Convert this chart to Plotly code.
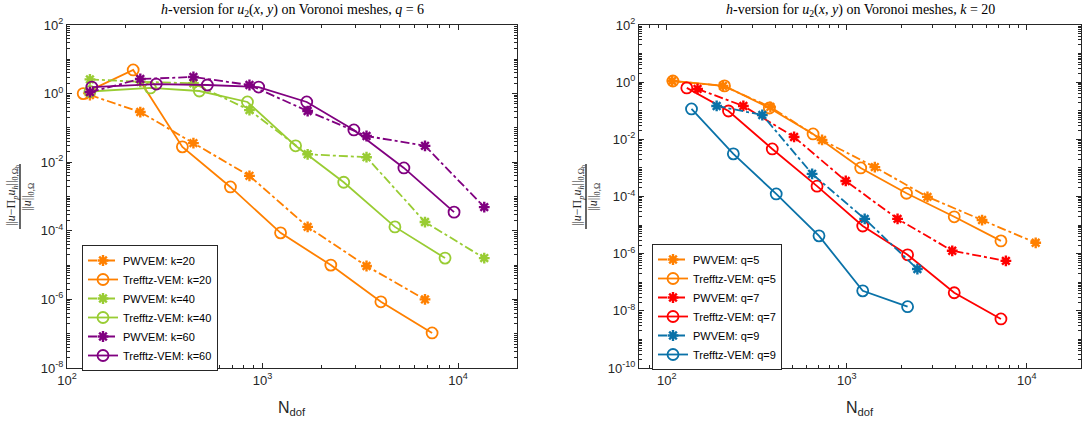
import plotly.graph_objects as go

# ---------------- data: left panel (q = 6) ----------------
ndof_pw_left = [131, 237, 443, 857, 1700, 3400, 6770, 13600]
pw_k20 = [0.91, 0.29, 0.036, 0.004, 1.3e-4, 9.4e-6, 1.0e-6]
pw_k40 = [2.6, 2.2, 2.0, 0.33, 0.017, 0.014, 1.8e-4, 1.6e-5]
pw_k60 = [1.11, 2.67, 3.05, 1.78, 0.31, 0.058, 0.03, 4.9e-4]

tv_k20_x = [121, 218, 389, 685, 1236, 2233, 4027, 7360]
tv_k20 = [1.0, 4.9, 0.028, 1.9e-3, 8.7e-5, 1.0e-5, 8.5e-7, 1.05e-7]
tv_k40_x = [131, 267, 475, 837, 1475, 2600, 4750, 8570]
tv_k40 = [1.15, 1.46, 1.19, 0.57, 0.030, 2.6e-3, 1.3e-4, 1.6e-5]
tv_k60_x = [134, 286, 522, 955, 1682, 2930, 5280, 9530]
tv_k60 = [1.55, 1.9, 1.78, 1.55, 0.57, 0.087, 6.8e-3, 3.5e-4]

# ---------------- data: right panel (k = 20) ----------------
pw_q5_x = [107, 205, 376, 728, 1430, 2805, 5640, 11200]
pw_q5 = [1.1, 0.74, 0.136, 0.0095, 1.07e-3, 9.7e-5, 1.5e-5, 2.4e-6]
tv_q5_x = [108, 209, 371, 649, 1194, 2145, 3950, 7180]
tv_q5 = [1.1, 0.74, 0.125, 0.0154, 1.0e-3, 1.3e-4, 1.95e-5, 2.8e-6]
pw_q7_x = [148, 266, 509, 986, 1913, 3850, 7650]
pw_q7 = [0.58, 0.147, 0.0121, 3.5e-4, 1.65e-5, 1.26e-6, 5.6e-7]
tv_q7_x = [129, 220, 385, 683, 1225, 2175, 3950, 7180]
tv_q7 = [0.63, 0.098, 4.6e-3, 2.3e-4, 9.3e-6, 9.1e-7, 4.3e-8, 5.2e-9]
pw_q9_x = [189, 339, 641, 1256, 2465]
pw_q9 = [0.147, 0.071, 6.2e-4, 1.65e-5, 2.9e-7]
tv_q9_x = [137, 234, 405, 700, 1225, 2175]
tv_q9 = [0.116, 3.1e-3, 1.23e-4, 4.2e-6, 5.0e-8, 1.4e-8]

# tick label exponents
x_exps = [2, 3, 4]
y_exps_left = [2, 0, -2, -4, -6, -8]
y_exps_right = [2, 0, -2, -4, -6, -8, -10]

ORANGE = "#FF8000"
GREEN = "#99CC33"
PURPLE = "#800080"
RED = "#FF0000"
BLUE = "#0A72A8"

W, H = 1085, 425
SANS = "Liberation Sans, Arial, sans-serif"
SERIF = "Liberation Serif, DejaVu Serif, serif"
AX = "#262626"

fig = go.Figure()


def pw(x, y, name, color, xa, ya, legend):
    fig.add_trace(go.Scatter(
        x=x, y=y, name=name, mode="lines+markers", xaxis=xa, yaxis=ya, legend=legend,
        line=dict(color=color, width=1.8, dash="dashdot"),
        marker=dict(symbol="asterisk-open", size=9, color=color,
                    line=dict(color=color, width=2.4))))


def tv(x, y, name, color, xa, ya, legend):
    fig.add_trace(go.Scatter(
        x=x, y=y, name=name, mode="lines+markers", xaxis=xa, yaxis=ya, legend=legend,
        line=dict(color=color, width=1.8),
        marker=dict(symbol="circle-open", size=11, color=color,
                    line=dict(color=color, width=1.8))))


pw(ndof_pw_left[:len(pw_k20)], pw_k20, "PWVEM: k=20", ORANGE, "x", "y", "legend")
tv(tv_k20_x, tv_k20, "Trefftz-VEM: k=20", ORANGE, "x", "y", "legend")
pw(ndof_pw_left, pw_k40, "PWVEM: k=40", GREEN, "x", "y", "legend")
tv(tv_k40_x, tv_k40, "Trefftz-VEM: k=40", GREEN, "x", "y", "legend")
pw(ndof_pw_left, pw_k60, "PWVEM: k=60", PURPLE, "x", "y", "legend")
tv(tv_k60_x, tv_k60, "Trefftz-VEM: k=60", PURPLE, "x", "y", "legend")

pw(pw_q5_x, pw_q5, "PWVEM: q=5", ORANGE, "x2", "y2", "legend2")
tv(tv_q5_x, tv_q5, "Trefftz-VEM: q=5", ORANGE, "x2", "y2", "legend2")
pw(pw_q7_x, pw_q7, "PWVEM: q=7", RED, "x2", "y2", "legend2")
tv(tv_q7_x, tv_q7, "Trefftz-VEM: q=7", RED, "x2", "y2", "legend2")
pw(pw_q9_x, pw_q9, "PWVEM: q=9", BLUE, "x2", "y2", "legend2")
tv(tv_q9_x, tv_q9, "Trefftz-VEM: q=9", BLUE, "x2", "y2", "legend2")


def minor_vals(lo, hi):
    vals = []
    for e in range(lo, hi + 1):
        for m in range(1, 10):
            vals.append(m * 10.0 ** e)
    return vals


def axis(domain, rng, anchor, exps, lo, hi):
    return dict(
        type="log", domain=domain, range=rng, anchor=anchor,
        showline=True, linecolor=AX, linewidth=1, mirror="allticks",
        ticks="inside", ticklen=5, tickcolor=AX, tickwidth=1,
        tickmode="array", tickvals=[10.0 ** e for e in exps],
        ticktext=["10<sup>%d</sup>" % e for e in exps],
        tickfont=dict(family=SANS, size=13, color=AX),
        minor=dict(ticks="inside", ticklen=3, tickcolor=AX, tickwidth=1,
                   tickmode="array", tickvals=minor_vals(lo, hi), showgrid=False),
        showgrid=False, zeroline=False, automargin=False)


ydom = [1 - 368 / H, 1 - 25 / H]
lx = [67 / W, 517 / W]
rx = [639 / W, 1081 / W]

legend_style = dict(bgcolor="white", bordercolor=AX, borderwidth=1,
                    font=dict(family=SANS, size=11, color="black"),
                    xanchor="left", yanchor="top", tracegroupgap=0,
                    itemsizing="trace")

fig.update_layout(
    width=W, height=H, margin=dict(l=0, r=0, t=0, b=0),
    plot_bgcolor="white", paper_bgcolor="white",
    xaxis=axis(lx, [2, 4.301], "y", x_exps, 2, 4),
    yaxis=axis(ydom, [-8, 2], "x", y_exps_left, -8, 2),
    xaxis2=axis(rx, [1.845, 4.301], "y2", x_exps, 1, 4),
    yaxis2=axis(ydom, [-10, 2], "x2", y_exps_right, -10, 2),
    legend=dict(x=82 / W, y=1 - 245 / H, **legend_style),
    legend2=dict(x=652 / W, y=1 - 244 / H, **legend_style),
    showlegend=True,
)

# titles
titles = [
    ((lx[0] + lx[1]) / 2, "<i>h</i>-version for <i>u</i><sub>2</sub>(<i>x</i>, <i>y</i>) on Voronoi meshes, <i>q</i> = 6"),
    ((rx[0] + rx[1]) / 2, "<i>h</i>-version for <i>u</i><sub>2</sub>(<i>x</i>, <i>y</i>) on Voronoi meshes, <i>k</i> = 20"),
]
for xc, t in titles:
    fig.add_annotation(x=xc, y=1 - 11 / H, xref="paper", yref="paper", text=t,
                       showarrow=False, xanchor="center", yanchor="middle",
                       font=dict(family=SERIF, size=14, color="black"))
# x-axis labels
for xc in [(lx[0] + lx[1]) / 2, (rx[0] + rx[1]) / 2]:
    fig.add_annotation(x=xc, y=1 - 408 / H, xref="paper", yref="paper",
                       text="N<sub>dof</sub>", showarrow=False,
                       xanchor="center", yanchor="middle",
                       font=dict(family=SANS, size=16, color=AX))
# y-axis fraction labels
num = "||<i>u</i>−Π<sub><i>p</i></sub><i>u</i><sub><i>h</i></sub>||<sub>0,Ω<sub>h</sub></sub>"
den = "||<i>u</i>||<sub>0,Ω</sub>"
for xb in [20, 586]:
    fig.add_shape(type="line", xref="paper", yref="paper",
                  x0=xb / W, x1=xb / W, y0=1 - 164 / H, y1=1 - 229 / H,
                  line=dict(color="black", width=1.2))
    fig.add_annotation(x=(xb - 8) / W, y=1 - 196 / H, xref="paper", yref="paper",
                       text=num, textangle=-90, showarrow=False,
                       xanchor="center", yanchor="middle",
                       font=dict(family=SERIF, size=12, color=AX))
    fig.add_annotation(x=(xb + 8) / W, y=1 - 197 / H, xref="paper", yref="paper",
                       text=den, textangle=-90, showarrow=False,
                       xanchor="center", yanchor="middle",
                       font=dict(family=SERIF, size=12, color=AX))

fig.write_html("out.html")
